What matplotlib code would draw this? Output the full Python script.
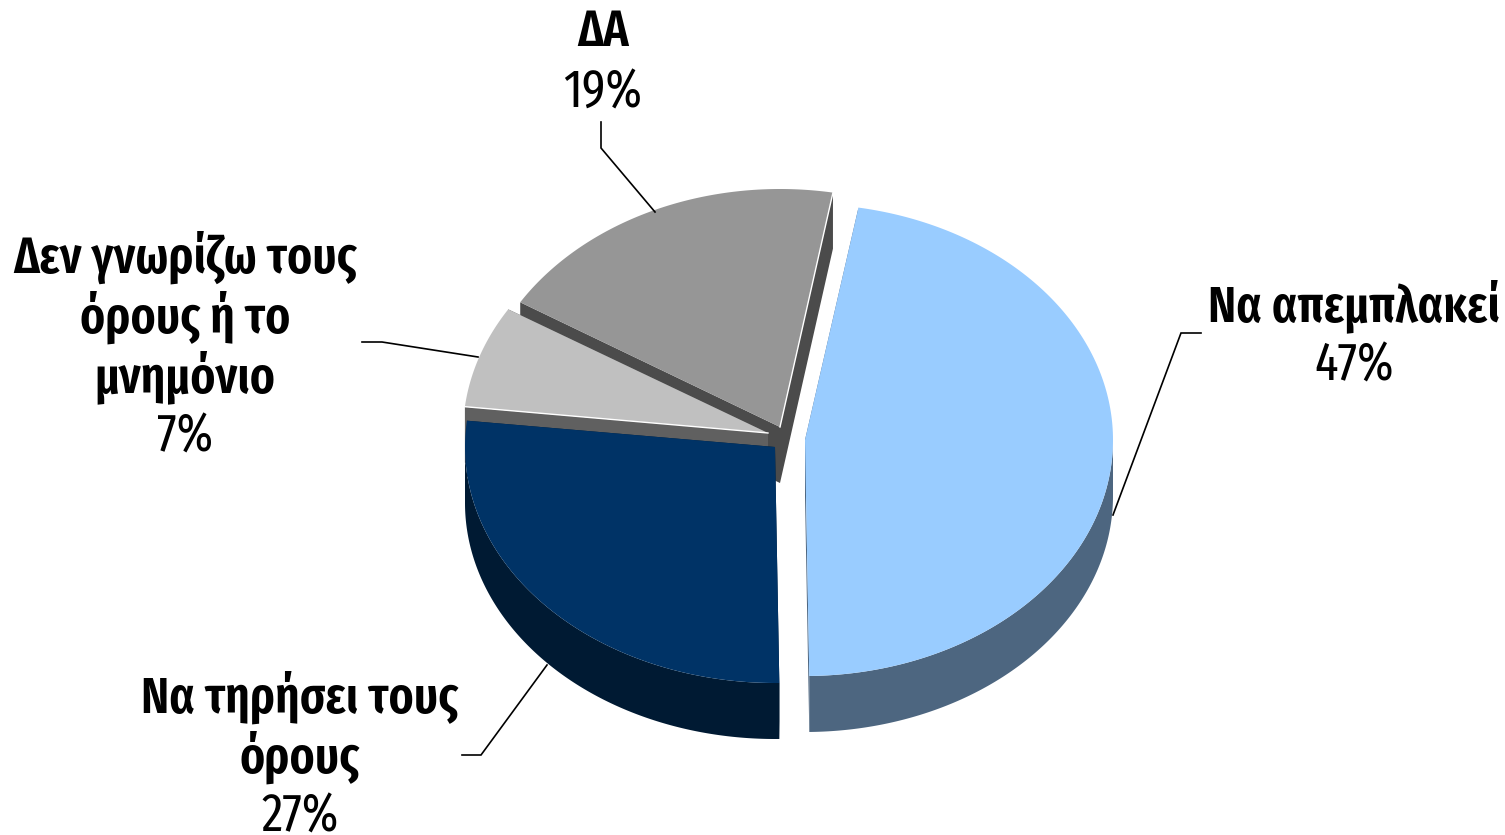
import numpy as np
import matplotlib
matplotlib.use("Agg")
import matplotlib.pyplot as plt

labels = ["Να απεμπλακεί", "Να τηρήσει τους\nόρους", "Δεν γνωρίζω τους\nόρους ή το\nμνημόνιο", "ΔΑ"]
values = [47, 27, 7, 19]
start_angle = 10

top_colors = ["#99CCFF", "#003366", "#C0C0C0", "#969696"]
wall_colors = ["#4D6680", "#001A33", "#606060", "#4B4B4B"]
centers = [(805, 440), (775, 447), (768, 433), (780, 427)]
radii = [(308, 236), (310, 236), (305, 236), (305, 238)]
depth = 56
label_pos = [(1354, 306), (300, 697), (185, 257), (603, 33)]
leaders = [
    [(1201, 333), (1181, 333), (1113, 515)],
    [(462, 755), (481, 755), (547, 665)],
    [(362, 342), (382, 342), (478, 357)],
    [(601, 122), (601, 148), (655, 212)],
]
FONT = ["Fira Sans Extra Condensed", "Roboto Condensed", "Liberation Sans Narrow", "Liberation Sans", "DejaVu Sans"]

fig = plt.figure(figsize=(15.05, 8.35), dpi=100)
ax = fig.add_axes([0, 0, 1, 1])
ax.set_xlim(0, 1505)
ax.set_ylim(835, 0)
ax.axis("off")


def rim(i, a, b):
    t = np.radians(np.linspace(a, b, 200))
    cx, cy = centers[i]
    rx, ry = radii[i]
    return cx + rx * np.sin(t), cy - ry * np.cos(t)


edges = start_angle + np.concatenate([[0], np.cumsum(values)]) * 3.6
# back to front: grey, light grey, navy, blue
for i in [3, 2, 1, 0]:
    a, b = edges[i], edges[i + 1]
    cx, cy = centers[i]
    x, y = rim(i, a, b)
    # radial walls
    for (ex, ey) in [(x[0], y[0]), (x[-1], y[-1])]:
        ax.fill([cx, ex, ex, cx], [cy, ey, ey + depth, cy + depth],
                color=wall_colors[i], lw=0)
    # outer wall on the front half
    fa, fb = max(a, 90), min(b, 270)
    if fb > fa:
        wx, wy = rim(i, fa, fb)
        ax.fill(np.r_[wx, wx[::-1]], np.r_[wy, wy[::-1] + depth],
                color=wall_colors[i], lw=0)
    ax.fill(np.r_[cx, x], np.r_[cy, y], color=top_colors[i], lw=0)
    if i in (2, 3):
        ax.plot([x[-1], cx] if i == 3 else [x[0], cx],
                [y[-1], cy] if i == 3 else [y[0], cy], color="white", lw=1)

for pts in leaders:
    px, py = zip(*pts)
    ax.plot(px, py, color="black", lw=1.2, solid_joinstyle="miter")

for i, lab in enumerate(labels):
    x, y = label_pos[i]
    lines = lab.split("\n")
    for j, ln in enumerate(lines):
        ax.text(x, y + 60 * j, ln, ha="center", va="center", fontsize=37,
                fontweight="semibold", family=FONT, color="black")
    ax.text(x, y + 60 * len(lines), f"{values[i]}%", ha="center", va="center",
            fontsize=38, family=FONT, color="black")

fig.savefig("out.png", dpi=100, facecolor="white")
